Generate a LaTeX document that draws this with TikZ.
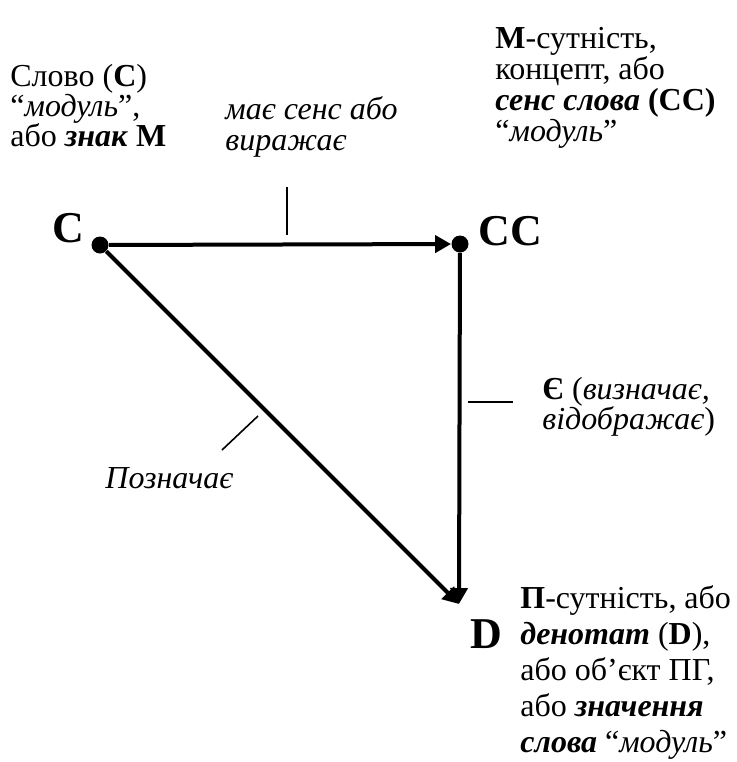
\documentclass[tikz,border=0pt]{standalone}
\usepackage{fontspec}
\setmainfont{Liberation Serif}
\usetikzlibrary{arrows.meta, positioning}
\tikzset{
  trifig/.style={
    x=0.5pt, y=-0.5pt,
    every node/.append style={font=\fontsize{16}{15}\selectfont},
    >={Triangle[length=8pt, width=8.5pt]},
  },
  vertexdot/.style={circle, fill=black, inner sep=0pt, minimum size=8.5pt},
  vertexlabel/.style={font=\fontsize{22}{22}\selectfont\bfseries, inner sep=0pt, anchor=base west},
  notetext/.style={align=left, inner sep=0pt, anchor=base west},
  relation/.style={line width=2pt, ->},
  marktick/.style={line width=0.8pt},
}
\begin{document}
\begin{tikzpicture}[trifig]
  \useasboundingbox (0,0) rectangle (736,762);
  % Ecken des Dreiecks
  \node[vertexdot] (C) at (100,245) {};
  \node[vertexdot] (CC) at (460,244) {};
  \coordinate (D) at (459,604);
  \node[vertexlabel] (labelC) at (52,242) {C};
  \node[vertexlabel] (labelCC) at (478,245) {CC};
  \node[vertexlabel] (labelD) at (470,648) {D};
  % Kanten
  \draw[relation] (C) -- (CC);
  \draw[relation] (CC) -- (D);
  \draw[relation] (C) -- (D);
  % Markierungen an den Kanten
  \draw[marktick] (287,187) -- (287,235);
  \draw[marktick] (468,402) -- (513,402);
  \draw[marktick] (222,450) -- (258,416);
  % Beschriftungen (Ankerpunkt: Grundlinie der letzten Zeile)
  \node[notetext] (wordnote) at (10,146) {Слово (\textbf{С})\\“\textit{модуль}”,\\або \textbf{\textit{знак}} \textbf{М}};
  \node[notetext, font=\fontsize{16}{15.5}\selectfont\itshape] (sensenote) at (225,150) {має сенс або\\виражає};
  \node[notetext, font=\fontsize{16}{15.5}\selectfont] (conceptnote) at (495,141) {\textbf{М}-сутність,\\концепт, або\\\textbf{\textit{сенс слова}} \textbf{(СС)}\\“\textit{модуль}”};
  \node[notetext] (isnote) at (542,429) {\textbf{Є} (\textit{визначає,}\\\textit{відображає})};
  \node[notetext, font=\fontsize{16}{15}\selectfont\itshape] (denotenote) at (105,488) {Позначає};
  \node[notetext, font=\fontsize{16}{18}\selectfont] (denotatnote) at (520,752) {\textbf{П}-сутність, або\\\textbf{\textit{денотат}} (\textbf{D}),\\або об’єкт ПГ,\\або \textbf{\textit{значення}}\\\textbf{\textit{слова}} “\textit{модуль}”};
\end{tikzpicture}
\end{document}
